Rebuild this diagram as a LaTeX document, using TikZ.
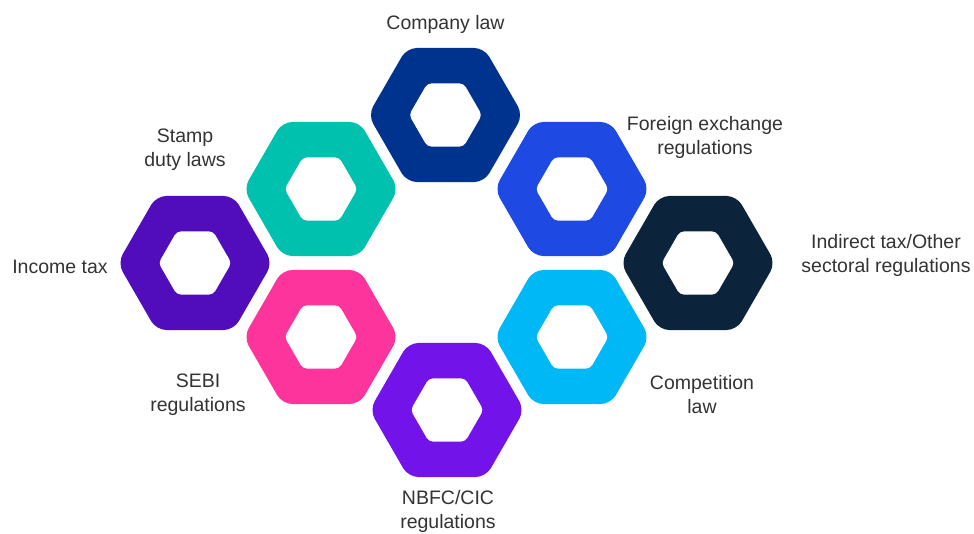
\documentclass[tikz,border=0pt]{standalone}
\usepackage{fontspec}
\setmainfont{Liberation Sans}

\definecolor{kpmgblue}{HTML}{00338D}
\definecolor{cobalt}{HTML}{1E49E2}
\definecolor{lightblue}{HTML}{00B8F5}
\definecolor{purple}{HTML}{7213EA}
\definecolor{darkpurple}{HTML}{510DBC}
\definecolor{pink}{HTML}{FD349C}
\definecolor{green}{HTML}{00C0AE}
\definecolor{darkblue}{HTML}{0C233C}
\definecolor{textgray}{HTML}{333333}

\tikzset{
	lawtext/.style={text=textgray, font=\fontsize{19.5}{24}\selectfont, align=center, inner sep=0pt},
}

\begin{document}
\begin{tikzpicture}[x=1pt, y=-1pt]
	\useasboundingbox (0,0) rectangle (974,533);
	% hexagon rings
	\foreach \name/\x/\y/\col in {company/445.5/115/kpmgblue, stamp/321/189/green,
		forex/572/189/cobalt, income/195/263/darkpurple, indirect/698/263/darkblue,
		sebi/321/337/pink, competition/572/337/lightblue, nbfc/447/410/purple}{
		\coordinate (\name) at (\x,\y);
		\fill[\col, rounded corners=10pt, shift={(\name)}] (90:67)
			\foreach \a in {120,180,...,420}{ -- (\a:77.4) } -- cycle;
		\fill[white, rounded corners=4pt, shift={(\name)}] (90:31.5)
			\foreach \a in {120,180,...,420}{ -- (\a:36.4) } -- cycle;
	}
	% labels
	\node[lawtext] (companylabel) at (445.5,24) {Company law};
	\node[lawtext] (stamplabel) at (185,150) {Stamp\\duty laws};
	\node[lawtext] (forexlabel) at (705,137) {Foreign exchange\\regulations};
	\node[lawtext] (incomelabel) at (60,267) {Income tax};
	\node[lawtext] (indirectlabel) at (886,255) {Indirect tax/Other\\sectoral regulations};
	\node[lawtext] (sebilabel) at (198,395) {SEBI\\regulations};
	\node[lawtext] (competitionlabel) at (702,395) {Competition\\law};
	\node[lawtext] (nbfclabel) at (448,511) {NBFC/CIC\\regulations};
\end{tikzpicture}
\end{document}
